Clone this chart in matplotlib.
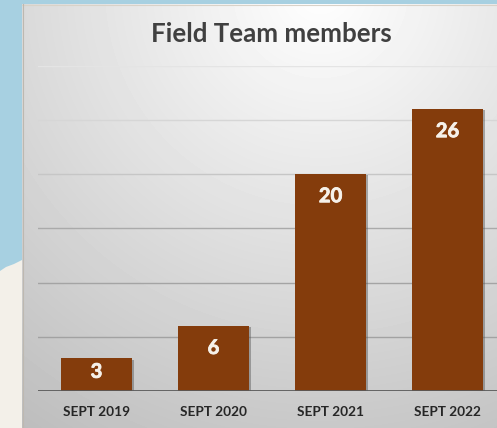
import numpy as np
import matplotlib
matplotlib.use("Agg")
import matplotlib.pyplot as plt
import matplotlib.patheffects as pe

plt.rcParams["font.family"] = ["Lato", "DejaVu Sans"]

W, H = 497, 428

categories = ["SEPT 2019", "SEPT 2020", "SEPT 2021", "SEPT 2022"]
members = [3, 6, 20, 26]
y_ticks = [0, 5, 10, 15, 20, 25, 30]
grid_colors = ["#5a5a5a", "#a2a2a2", "#a4a4a4", "#aaaaaa", "#c6c6c6", "#d6d6d6", "#e4e4e4"]

fig = plt.figure(figsize=(W / 100, H / 100), dpi=100)

# ── backdrop: sky, land, grey panel ────────────────────────
bg = fig.add_axes([0, 0, 1, 1])
bg.set_xlim(0, W); bg.set_ylim(H, 0); bg.axis("off")
bg.fill_between([0, W], 0, H, color="#a7d0e1", lw=0)
bg.fill([0, 6, 14, 22, 22, 0], [271, 267, 264, 260, H, H], color="#f3f0e9", lw=0)

xx, yy = np.meshgrid(np.arange(22, W), np.arange(4, H))
shade = 255 - 0.125 * np.hypot(xx - 320, yy + 10)
bg.imshow(shade, cmap="gray", vmin=0, vmax=255, extent=(22, W, H, 4), aspect="auto",
          zorder=2, interpolation="bilinear")
bg.plot([22, W], [4.5, 4.5], color="#d8d2c8", lw=0.8, zorder=3)
bg.plot([22.5, 22.5], [4, H], color="#bdb8b0", lw=0.8, zorder=3)
bg.set_xlim(0, W); bg.set_ylim(H, 0)

# ── chart: 4 categories 117px apart, 10.84px per member ────
ax = fig.add_axes([38 / W, (H - 391) / H, 468 / W, 325.2 / H])
ax.patch.set_alpha(0)
bars = ax.bar(range(len(members)), members, width=0.6, color="#843c0c", zorder=3)
for b in bars:
    b.set_path_effects([pe.SimplePatchShadow(offset=(1.6, -0.8), shadow_rgbFace="#555555", alpha=0.45), pe.Normal()])
ax.set_xlim(-0.5, 3.5)
ax.set_ylim(0, 30)
ax.set_yticks(y_ticks)
ax.tick_params(length=0, labelleft=False)
ax.set_xticks(range(len(categories)))
ax.set_xticklabels(categories, fontsize=9.8, fontweight="bold", color="#262626")
ax.tick_params(axis="x", pad=11)
for s in ax.spines.values():
    s.set_visible(False)
for t, c in zip(y_ticks, grid_colors):
    ax.axhline(t, color=c, lw=2.0 if t == 0 else 1.0, zorder=4 if t == 0 else 1)

# labels sit 22px under the bar top, the short bar centres its label
for i, v in enumerate(members):
    off = min(22, v * 10.84 * 0.41)
    ax.annotate(str(v), (i, v), xytext=(0, -off), textcoords="offset pixels", ha="center", va="center",
                fontsize=14.5, fontweight="bold", color="#f6f1ea", zorder=5,
                path_effects=[pe.withStroke(linewidth=0.6, foreground="#f6f1ea")])

fig.text(271.5 / W, 1 - 33.5 / H, "Field Team members", ha="center", va="center",
         fontsize=18.6, fontweight="bold", color="#404040")

fig.savefig("out.png", dpi=100)
